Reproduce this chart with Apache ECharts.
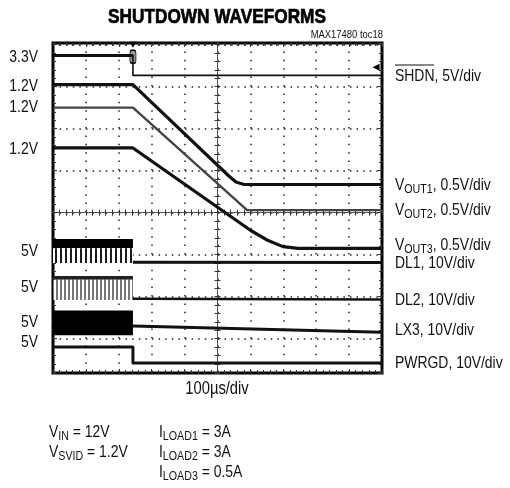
<!DOCTYPE html>
<html>
<head>
<meta charset="utf-8">
<script src="https://cdn.jsdelivr.net/npm/echarts@6/dist/echarts.min.js"></script>
<style>
  html, body { margin:0; padding:0; background:#fff; }
  #chart { width:510px; height:488px; }
</style>
</head>
<body>
<div id="chart"></div>
<script>
/* Scope shot: shutdown waveforms. Time in screen divisions (100us/div, 0 = centre),
   levels in vertical divisions from the screen centre. */
var T_OFF = -2.57;                       // SHDN falling edge

var SHDN_T  = [-5, T_OFF, T_OFF, 5];
var SHDN_V  = [3.74, 3.74, 3.27, 3.27];
var VOUT1_T = [-5, T_OFF, 0.32, 0.56, 0.81, 5];
var VOUT1_V = [3.05, 3.05, 0.89, 0.73, 0.67, 0.67];
var VOUT2_T = [-5, T_OFF, 0.90, 5];
var VOUT2_V = [2.50, 2.50, 0.06, 0.06];
var VOUT3_T = [-5, T_OFF, 1.00, 1.50, 1.99, 2.45, 5];
var VOUT3_V = [1.54, 1.54, -0.42, -0.65, -0.81, -0.85, -0.85];
var DL1_T   = [T_OFF, 5];
var DL1_V   = [-1.18, -1.19];
var DL2_T   = [T_OFF, 5];
var DL2_V   = [-2.05, -2.07];
var LX3_T   = [T_OFF, 5];
var LX3_V   = [-2.70, -2.85];
var PWRGD_T = [-5, T_OFF, T_OFF, 5];
var PWRGD_V = [-3.20, -3.20, -3.58, -3.58];

// switching bursts before shutdown: [top, end of solid band, bottom]
var BURST_T = [-5, T_OFF];
var DL1_BURST = [-0.63, -0.85, -1.20];
var DL2_BURST = [-1.51, -1.60, -2.08];
var LX3_BURST = [-2.33, -2.92];

var LEFT_LABELS = ['3.3V', '1.2V', '1.2V', '1.2V', '5V', '5V', '5V', '5V'];
var LEFT_LEVELS = [3.70, 3.00, 2.51, 1.50, -0.92, -1.79, -2.62, -3.10];

var RIGHT_LABELS = [
  '{m|SHDN, 5V/div}',
  '{m|V}{s|OUT1}{m|, 0.5V/div}',
  '{m|V}{s|OUT2}{m|, 0.5V/div}',
  '{m|V}{s|OUT3}{m|, 0.5V/div}',
  '{m|DL1, 10V/div}',
  '{m|DL2, 10V/div}',
  '{m|LX3, 10V/div}',
  '{m|PWRGD, 10V/div}'
];
var RIGHT_LEVELS = [3.25, 0.66, 0.06, -0.77, -1.20, -2.09, -2.80, -3.58];

var F = '"Liberation Sans", Arial, sans-serif';
var INK = '#111';
var NARROW = 0.82;                       // condensed look from a regular face

var RICH = {
  m: { fontFamily:F, fontSize:17, lineHeight:22, color:INK },
  s: { fontFamily:F, fontSize:13, lineHeight:14, color:INK, verticalAlign:'bottom' }
};

function stripes(period, on, ink){
  var c = document.createElement('canvas');
  c.width = period; c.height = 8;
  var g = c.getContext('2d');
  g.fillStyle = '#fff'; g.fillRect(0, 0, period, 8);
  g.fillStyle = ink;    g.fillRect(0, 0, on, 8);
  return c;
}
function pts(T, V){ return T.map(function(t, i){ return [t, V[i]]; }); }

function trace(T, V, color, width){
  return { type:'line', data:pts(T, V), symbol:'none', z:5, silent:true,
           lineStyle:{ color:color, width:width, join:'round' } };
}
function burst(top, bottom, fill){
  return { type:'line', data:pts(BURST_T, [top, top]), symbol:'none', z:4, silent:true,
           lineStyle:{ width:0 }, areaStyle:{ origin:bottom, color:fill, opacity:1 } };
}
function txt(x, y, text, align, size, extra){
  var st = { text:text, textAlign:align, textVerticalAlign:'middle', fill:INK };
  if(text.indexOf('{') === 0){ st.rich = RICH; } else { st.font = (size || 17) + 'px ' + F; }
  return Object.assign({ type:'text', x:x, y:y, scaleX:NARROW, style:Object.assign(st, extra || {}) });
}

var chart = echarts.init(document.getElementById('chart'), null, { renderer:'canvas' });

var hidden = { axisLabel:{ show:false }, splitLine:{ show:false } };
function xAx(extra){ return Object.assign({ type:'value', min:-5, max:5, interval:1 }, hidden, extra); }
function yAx(extra){ return Object.assign({ type:'value', min:-3.82, max:4.04, splitNumber:8 }, hidden, extra); }
var tickLine = { color:'#333', width:1 };
function crossX(inside){
  return xAx({ position:'bottom',
    axisLine:{ show:true, onZero:true, onZeroAxisIndex:0, lineStyle:{ color:'#555', width:1 } },
    axisTick:{ show:true, inside:inside, length:3, lineStyle:tickLine },
    minorTick:{ show:true, splitNumber:5, length:3, lineStyle:tickLine } });
}
function crossY(inside){
  return yAx({ position:'left',
    axisLine:{ show:true, onZero:true, onZeroAxisIndex:0, lineStyle:{ color:'#555', width:1 } },
    axisTick:{ show:true, inside:inside, length:3, lineStyle:tickLine },
    minorTick:{ show:true, splitNumber:5, length:3, lineStyle:tickLine } });
}
function edgeX(pos){
  return xAx({ position:pos, axisLine:{ show:false, onZero:false },
    axisTick:{ show:true, inside:true, length:4, lineStyle:tickLine },
    minorTick:{ show:true, splitNumber:5, length:3, lineStyle:tickLine } });
}
function edgeY(pos){
  return yAx({ position:pos, axisLine:{ show:false, onZero:false },
    axisTick:{ show:true, inside:true, length:4, lineStyle:tickLine },
    minorTick:{ show:true, splitNumber:5, length:3, lineStyle:tickLine } });
}

var shdnHigh = trace(SHDN_T.slice(0, 2), SHDN_V.slice(0, 2), INK, 3);
shdnHigh.markPoint = { silent:true, label:{ show:false }, data:[
  { coord:[T_OFF, 4.0],  symbol:'triangle', symbolRotate:180, symbolSize:[7, 6], itemStyle:{ color:'#000' } },
  { coord:[T_OFF, 3.71], symbol:'roundRect', symbolSize:[6, 13], itemStyle:{ color:'#999', borderColor:'#000', borderWidth:1 } },
  { coord:[4.82, 3.46],  symbol:'triangle', symbolRotate:90, symbolSize:[7, 7], itemStyle:{ color:'#000' } }
]};

var option = {
  animation:false,
  backgroundColor:'#fff',
  grid:{ left:53, right:128, top:43, bottom:115, show:true, borderColor:'#000', borderWidth:3, backgroundColor:'#fff' },
  xAxis:[
    xAx({ axisLine:{ show:false, onZero:false }, axisTick:{ show:false },
          splitLine:{ show:true, lineStyle:{ color:'#222', width:1.5, type:[1.5, 6.9] } } }),
    crossX(true), crossX(false), edgeX('top'), edgeX('bottom')
  ],
  yAxis:[
    yAx({ axisLine:{ show:false, onZero:false }, axisTick:{ show:false },
          splitLine:{ show:true, lineStyle:{ color:'#222', width:1.5, type:[1.5, 5.1] } } }),
    crossY(true), crossY(false), edgeY('left'), edgeY('right')
  ],
  series:[
    burst(DL1_BURST[0], DL1_BURST[1], '#000'),
    burst(DL1_BURST[1], DL1_BURST[2], { image:stripes(5, 2, '#1a1a1a'), repeat:'repeat' }),
    burst(DL2_BURST[0], DL2_BURST[1], '#222'),
    burst(DL2_BURST[1], DL2_BURST[2], { image:stripes(4, 2, '#777'), repeat:'repeat' }),
    burst(LX3_BURST[0], LX3_BURST[1], '#000'),
    trace(SHDN_T, SHDN_V, INK, 1.6),
    shdnHigh,
    trace(VOUT1_T, VOUT1_V, INK, 3.2),
    trace(VOUT2_T, VOUT2_V, '#444', 2.4),
    trace(VOUT3_T, VOUT3_V, INK, 3.2),
    trace(DL1_T, DL1_V, INK, 3),
    trace(DL2_T, DL2_V, INK, 2.6),
    trace(LX3_T, LX3_V, INK, 3),
    trace(PWRGD_T, PWRGD_V, INK, 3)
  ]
};
chart.setOption(option);

var graphics = [
  txt(217, 17, 'SHUTDOWN WAVEFORMS', 'center', 21,
      { font:'bold 21px ' + F, fill:'#000', stroke:'#000', lineWidth:0.7 }),
  txt(383, 35, 'MAX17480 toc18', 'right', 11.5),
  { type:'line', shape:{ x1:395, y1:65, x2:434, y2:65 }, style:{ stroke:INK, lineWidth:1 } },
  txt(217, 389, '100\u00b5s/div', 'center', 18),
  txt(49, 432, '{m|V}{s|IN}{m| = 12V}', 'left'),
  txt(49, 452, '{m|V}{s|SVID}{m| = 1.2V}', 'left'),
  txt(159, 432, '{m|I}{s|LOAD1}{m| = 3A}', 'left'),
  txt(159, 452, '{m|I}{s|LOAD2}{m| = 3A}', 'left'),
  txt(159, 472, '{m|I}{s|LOAD3}{m| = 0.5A}', 'left')
];
// channel labels placed through the chart's own scale
LEFT_LABELS.forEach(function(t, i){
  var p = chart.convertToPixel({ xAxisIndex:0, yAxisIndex:0 }, [-5, LEFT_LEVELS[i]]);
  graphics.push(txt(38, p[1], t, 'right', 17));
});
RIGHT_LABELS.forEach(function(t, i){
  var p = chart.convertToPixel({ xAxisIndex:0, yAxisIndex:0 }, [5, RIGHT_LEVELS[i]]);
  graphics.push(txt(395, p[1], t, 'left'));
});
chart.setOption({ graphic: graphics });

window.addEventListener('resize', function(){ chart.resize(); });
</script>
</body>
</html>
